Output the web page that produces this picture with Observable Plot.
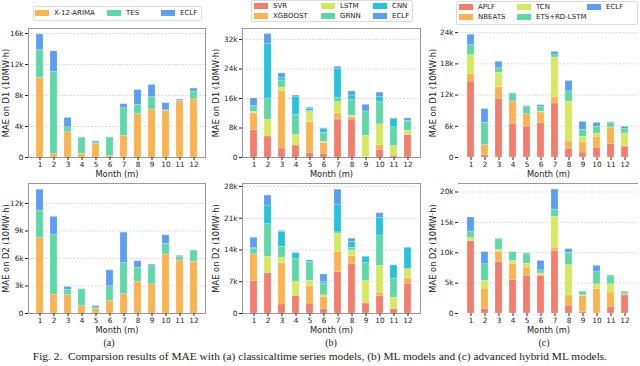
<!DOCTYPE html>
<html><head><meta charset="utf-8">
<script src="https://cdn.jsdelivr.net/npm/d3@7"></script>
<script src="https://cdn.jsdelivr.net/npm/@observablehq/plot@0.6"></script>
<style>
body{margin:0;background:#fff;}
#root{position:relative;width:640px;height:366px;overflow:hidden;font-family:"DejaVu Sans",sans-serif;background:#fff;}
.panel{position:absolute;z-index:1;}
.legend{position:absolute;border:1px solid #dcdcdc;border-radius:2px;background:#fff;box-sizing:border-box;z-index:5;}
.item{position:absolute;display:flex;align-items:center;white-space:nowrap;font-size:7px;color:#222;height:8px;line-height:8px;z-index:6;}
.sw{display:inline-block;width:14px;height:6px;margin-right:5px;}
.sub{position:absolute;width:40px;height:12px;line-height:12px;text-align:center;font-family:"Liberation Serif",serif;font-size:10px;color:#222;z-index:10;}
.caption{position:absolute;left:0;width:640px;text-align:center;white-space:pre;font-family:"Liberation Serif",serif;font-size:11.4px;line-height:12px;color:#222;z-index:10;}
</style></head>
<body><div id="root"></div>
<script>
const months = [1,2,3,4,5,6,7,8,9,10,11,12];

// (a) classical time series models
const namesA = ["X-12-ARIMA","TES","ECLF"];
const colorsA = ["#FCB24D","#5CD9A6","#5A9EF5"];
const x12D1  = [10260, 470, 3260, 500, 1760, 200, 2800, 5600, 6180, 6000, 7250, 7500];
const tesD1  = [3600, 10600, 640, 2000, 210, 2300, 3550, 1180, 1620, 100, 50, 1000];
const eclfAD1 = [2020, 2630, 1200, 100, 130, 100, 520, 1920, 1560, 900, 170, 400];
const x12D2  = [8200, 2060, 1990, 800, 470, 1370, 2100, 3470, 3180, 6430, 5780, 5640];
const tesD2  = [3000, 6500, 600, 1840, 130, 1600, 3400, 1530, 2000, 1170, 420, 1230];
const eclfAD2 = [2300, 1980, 300, 30, 200, 1740, 3320, 700, 150, 930, 90, 0];

// (b) ML models
const namesB = ["SVR","XGBOOST","LSTM","GRNN","CNN","ECLF"];
const colorsB = ["#F47E6E","#FCB24D","#D6E85C","#5CD9A6","#26C3DF","#5A9EF5"];
const svrD1  = [7500, 5700, 2450, 3260, 1200, 1000, 10300, 10300, 0, 2100, 450, 6100];
const xgbD1  = [4500, 0, 15650, 0, 8400, 3000, 1700, 600, 100, 1250, 0, 100];
const lstmD1 = [400, 4500, 900, 2940, 2700, 300, 3000, 400, 5800, 5650, 2650, 1100];
const grnnD1 = [1200, 5800, 1900, 5400, 300, 2400, 1200, 4300, 6600, 6000, 5100, 2500];
const cnnD1  = [400, 14800, 600, 4900, 500, 1000, 7800, 1200, 0, 1400, 2200, 200];
const eclfBD1 = [2000, 2700, 1300, 300, 400, 200, 600, 1100, 1800, 1200, 200, 600];
const svrD2  = [7200, 8950, 2000, 3900, 2200, 950, 9100, 10850, 2200, 3800, 950, 6600];
const xgbD2  = [5850, 0, 9100, 0, 3800, 2750, 4500, 1850, 200, 800, 0, 1250];
const lstmD2 = [0, 3550, 1200, 3100, 1200, 300, 4000, 1200, 4800, 5900, 2550, 1950];
const grnnD2 = [1150, 7200, 2400, 5000, 3900, 2600, 300, 600, 3900, 6700, 4200, 0];
const cnnD2  = [200, 4100, 3300, 1300, 300, 400, 6100, 1300, 1400, 3900, 2900, 4700];
const eclfBD2 = [2300, 2200, 200, 50, 300, 1600, 3300, 700, 0, 1000, 50, 50];

// (c) advanced hybrid ML models
const namesC = ["APLF","NBEATS","TCN","ETS+RD-LSTM","ECLF"];
const colorsC = ["#F47E6E","#FCB24D","#D6E85C","#5CD9A6","#5A9EF5"];
const aplfD1   = [14600, 500, 11300, 6500, 5950, 6650, 10400, 1700, 960, 1900, 2550, 2100];
const nbeatsD1 = [1500, 1900, 2300, 4250, 2350, 2000, 1250, 1400, 1940, 2100, 3200, 150];
const tcnD1    = [3600, 0, 2700, 0, 0, 150, 7550, 7650, 1100, 600, 0, 2350];
const etsD1    = [1900, 4260, 850, 1450, 1400, 900, 600, 1950, 1300, 1300, 900, 850];
const eclfCD1  = [2000, 2640, 1250, 150, 200, 350, 500, 2000, 1550, 750, 150, 450];
const aplfD2   = [11900, 770, 8500, 5500, 6200, 6140, 10250, 1300, 270, 0, 1100, 2960];
const nbeatsD2 = [0, 3330, 1600, 2600, 1360, 260, 600, 1700, 2580, 4000, 2350, 240];
const tcnD2    = [500, 1300, 400, 560, 640, 200, 5050, 4950, 150, 800, 1350, 0];
const etsD2    = [1100, 2700, 1700, 1440, 1500, 500, 1200, 2050, 600, 2000, 1300, 300];
const eclfCD2  = [2300, 2000, 100, 0, 160, 1560, 3300, 600, 0, 1050, 150, 100];

// tick values
const ticksAD1 = [0, 4000, 8000, 12000, 16000];
const ticksAD2 = [0, 3000, 6000, 9000, 12000];
const ticksBD1 = [0, 8000, 16000, 24000, 32000];
const ticksBD2 = [0, 7000, 14000, 21000, 28000];
const ticksCD1 = [0, 6000, 12000, 18000, 24000];
const ticksCD2 = [0, 5000, 10000, 15000, 20000];

const root = document.getElementById("root");
const fmt = d => d === 0 ? "0" : (d/1000) + "k";

function panel(cfg) {
  const rows = [];
  cfg.series.forEach((vals, i) => vals.forEach((v, j) => rows.push({month: months[j], name: cfg.names[i], value: v})));
  const marks = [
    Plot.gridY(cfg.ticks.filter(d => d > 0), {stroke: "#cfcfcf", strokeOpacity: 1, strokeDasharray: "2,1.5", strokeWidth: 0.8}),
    Plot.barY(rows, {x: "month", y: "value", fill: "name", stroke: "white", strokeOpacity: 0.35, strokeWidth: 0.6})
  ];
  if (cfg.frame === "full") marks.push(Plot.frame({stroke: "#999", strokeWidth: 1}));
  if (cfg.frame === "top") marks.push(Plot.ruleY([cfg.yMax], {stroke: "#999", strokeWidth: 1}));
  marks.push(
    Plot.axisY(cfg.ticks, {tickFormat: fmt, tickSize: 3, tickPadding: 2, fontSize: 7.3, label: null}),
    Plot.axisY([], {label: cfg.yLabel, labelAnchor: "center", labelArrow: "none", labelOffset: cfg.labelOffset, fontSize: 8.3, tickSize: 0}),
    Plot.axisX(months, {tickSize: 3, tickPadding: 1, fontSize: 7.3, label: null}),
    Plot.axisX([], {label: "Month (m)", labelAnchor: "center", labelArrow: "none", labelOffset: 19, fontSize: 8.3, tickSize: 0})
  );
  const svg = Plot.plot({
    width: cfg.width, height: cfg.height,
    marginLeft: cfg.ml, marginRight: cfg.mr, marginTop: cfg.mt, marginBottom: cfg.mb,
    style: {fontFamily: "DejaVu Sans", color: "#222", background: "transparent", overflow: "visible"},
    x: {type: "band", domain: months, paddingInner: 0.48, paddingOuter: 0.53},
    y: {domain: [0, cfg.yMax]},
    color: {domain: cfg.names, range: cfg.colors},
    marks
  });
  const div = document.createElement("div");
  div.className = "panel";
  div.style.left = cfg.left + "px";
  div.style.top = cfg.top + "px";
  div.appendChild(svg);
  root.appendChild(div);
}

const topRow = {top: 20, height: 160, mt: 8, mb: 23};
const botRow = {top: 176, height: 162, mt: 7, mb: 25};
const colA = {left: 0, width: 212, ml: 28, mr: 7, labelOffset: 25.5};
const colB = {left: 212, width: 214, ml: 30, mr: 6, labelOffset: 29.5};
const colC = {left: 426, width: 214, ml: 32, mr: 2, labelOffset: 28.5};

panel({...topRow, ...colA, names: namesA, colors: colorsA, series: [x12D1, tesD1, eclfAD1], ticks: ticksAD1, yMax: 16650, yLabel: "MAE on D1 (10MW·h)", frame: "full"});
panel({...botRow, ...colA, names: namesA, colors: colorsA, series: [x12D2, tesD2, eclfAD2], ticks: ticksAD2, yMax: 14180, yLabel: "MAE on D2 (10MW·h)", frame: "full"});
panel({...topRow, ...colB, names: namesB, colors: colorsB, series: [svrD1, xgbD1, lstmD1, grnnD1, cnnD1, eclfBD1], ticks: ticksBD1, yMax: 35000, yLabel: "MAE on D1 (10MW·h)", frame: "full"});
panel({...botRow, ...colB, names: namesB, colors: colorsB, series: [svrD2, xgbD2, lstmD2, grnnD2, cnnD2, eclfBD2], ticks: ticksBD2, yMax: 28660, yLabel: "MAE on D2 (10MW·h)", frame: "full"});
panel({...topRow, ...colC, names: namesC, colors: colorsC, series: [aplfD1, nbeatsD1, tcnD1, etsD1, eclfCD1], ticks: ticksCD1, yMax: 24800, yLabel: "MAE on D1 (10MW·h)", frame: "none"});
panel({...botRow, ...colC, names: namesC, colors: colorsC, series: [aplfD2, nbeatsD2, tcnD2, etsD2, eclfCD2], ticks: ticksCD2, yMax: 21400, yLabel: "MAE on D2 (10MW·h)", frame: "top"});

// legends
function legend(box, names, colors, slots) {
  const lg = document.createElement("div");
  lg.className = "legend";
  Object.assign(lg.style, {left: box[0] + "px", top: box[1] + "px", width: box[2] + "px", height: box[3] + "px"});
  root.appendChild(lg);
  names.forEach((n, i) => {
    const it = document.createElement("div");
    it.className = "item";
    it.style.left = slots[i][0] + "px";
    it.style.top = (slots[i][1] - 4) + "px";
    const sw = document.createElement("span");
    sw.className = "sw";
    sw.style.background = colors[i];
    it.appendChild(sw);
    it.appendChild(document.createTextNode(n));
    root.appendChild(it);
  });
}
legend([33, 6, 169, 15], namesA, colorsA, [[35, 13], [107, 13], [161, 13]]);
legend([251, 0, 162, 22], namesB, colorsB, [[254, 6], [254, 16], [321, 6], [321, 16], [373, 6], [373, 16]]);
legend([456, 1, 182, 24], namesC, colorsC, [[459, 7], [459, 17], [517, 7], [517, 17], [587, 7]]);

// sub labels and caption
const subLabels = ["(a)", "(b)", "(c)"];
const subX = [109, 331, 544];
subLabels.forEach((t, i) => {
  const s = document.createElement("div");
  s.className = "sub";
  s.style.left = (subX[i] - 20) + "px";
  s.style.top = "337px";
  s.textContent = t;
  root.appendChild(s);
});
const cap = document.createElement("div");
cap.className = "caption";
cap.style.top = "350px";
cap.textContent = "Fig. 2.  Comparsion results of MAE with (a) classicaltime series models, (b) ML models and (c) advanced hybrid ML models.";
root.appendChild(cap);
</script>
</body></html>
